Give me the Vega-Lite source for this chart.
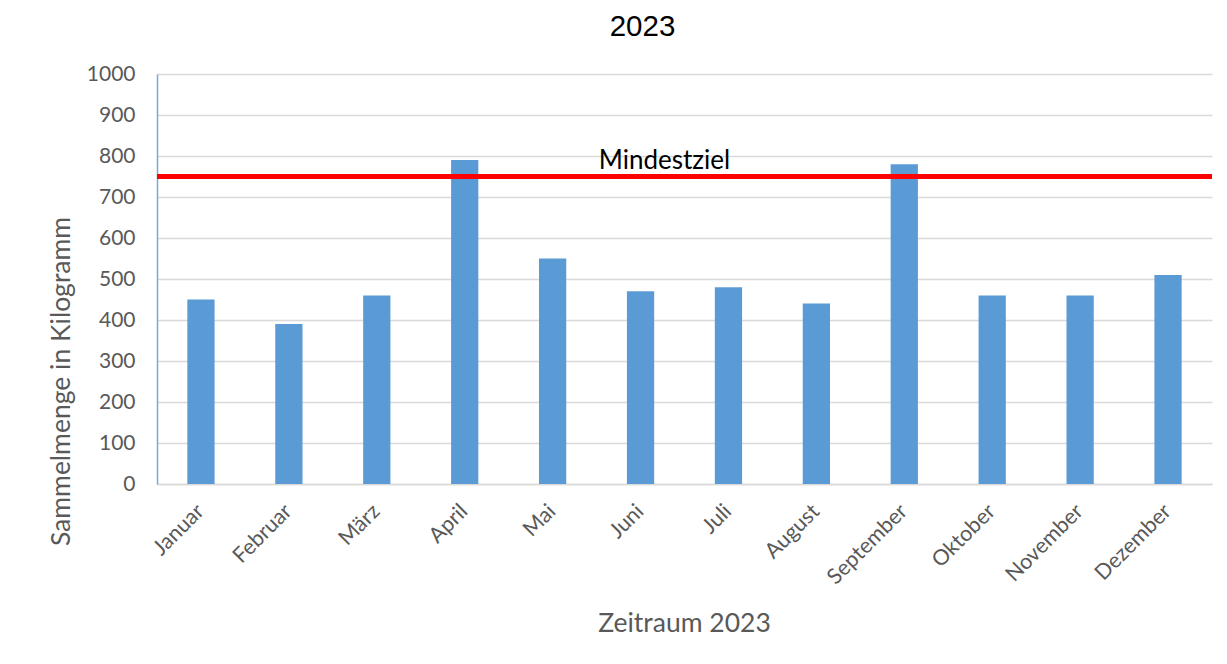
{
  "$schema": "https://vega.github.io/schema/vega-lite/v6.json",
  "width": 1055,
  "height": 410,
  "autosize": {"type": "none"},
  "padding": {"left": 157, "top": 74, "right": 15, "bottom": 180},
  "background": "white",
  "title": {
    "text": "2023",
    "font": "Liberation Sans",
    "fontSize": 29.5,
    "fontWeight": "normal",
    "color": "#000000",
    "anchor": "middle",
    "frame": "group",
    "baseline": "bottom",
    "offset": 0,
    "dx": -42,
    "dy": 8
  },
  "config": {
    "view": {"stroke": null},
    "font": "Lato"
  },
  "data": {
    "values": [
      {"Monat": "Januar", "Menge": 450},
      {"Monat": "Februar", "Menge": 390},
      {"Monat": "März", "Menge": 460},
      {"Monat": "April", "Menge": 790},
      {"Monat": "Mai", "Menge": 550},
      {"Monat": "Juni", "Menge": 470},
      {"Monat": "Juli", "Menge": 480},
      {"Monat": "August", "Menge": 440},
      {"Monat": "September", "Menge": 780},
      {"Monat": "Oktober", "Menge": 460},
      {"Monat": "November", "Menge": 460},
      {"Monat": "Dezember", "Menge": 510}
    ]
  },
  "layer": [
    {
      "mark": {"type": "bar", "color": "#5B9BD5"},
      "encoding": {
        "x": {
          "field": "Monat",
          "type": "nominal",
          "sort": null,
          "scale": {"paddingInner": 0.69, "paddingOuter": 0.345},
          "axis": {
            "title": "Zeitraum 2023",
            "titleFont": "Lato",
            "titleFontSize": 26.5,
            "titleFontWeight": "normal",
            "titleColor": "#595959",
            "titleX": 527,
            "titleY": 139,
            "titleAlign": "center",
            "titleBaseline": "middle",
            "labelAngle": -45,
            "labelAlign": "right",
            "labelBaseline": "middle",
            "labelPadding": 24,
            "labelFont": "Lato",
            "labelFontSize": 21.5,
            "labelColor": "#595959",
            "ticks": false,
            "domainColor": "#d9d9d9",
            "domainWidth": 1.5
          }
        },
        "y": {
          "field": "Menge",
          "type": "quantitative",
          "scale": {"domain": [0, 1000], "nice": false},
          "axis": {
            "title": "Sammelmenge in Kilogramm",
            "titleFont": "Lato",
            "titleFontSize": 26.5,
            "titleFontWeight": "normal",
            "titleColor": "#595959",
            "titleAngle": -90,
            "titleX": -96,
            "titleY": 307,
            "titleAlign": "center",
            "titleBaseline": "middle",
            "values": [0, 100, 200, 300, 400, 500, 600, 700, 800, 900, 1000],
            "format": "d",
            "labelFont": "Lato",
            "labelFontSize": 21,
            "labelColor": "#595959",
            "labelPadding": 22,
            "ticks": false,
            "domainColor": "#7DA7D9",
            "domainWidth": 1.5,
            "grid": true,
            "gridColor": "#d9d9d9",
            "gridWidth": 1.5
          }
        }
      }
    },
    {
      "data": {"values": [{"Ziel": 750}]},
      "mark": {"type": "rule", "color": "#FF0000", "strokeWidth": 5},
      "encoding": {
        "y": {"field": "Ziel", "type": "quantitative"}
      }
    },
    {
      "data": {"values": [{"Label": "Mindestziel", "Wert": 768}]},
      "mark": {"type": "text", "font": "Lato", "fontSize": 26, "color": "#000000", "align": "center", "baseline": "alphabetic", "dx": -20},
      "encoding": {
        "y": {"field": "Wert", "type": "quantitative"},
        "text": {"field": "Label"}
      }
    }
  ]
}
